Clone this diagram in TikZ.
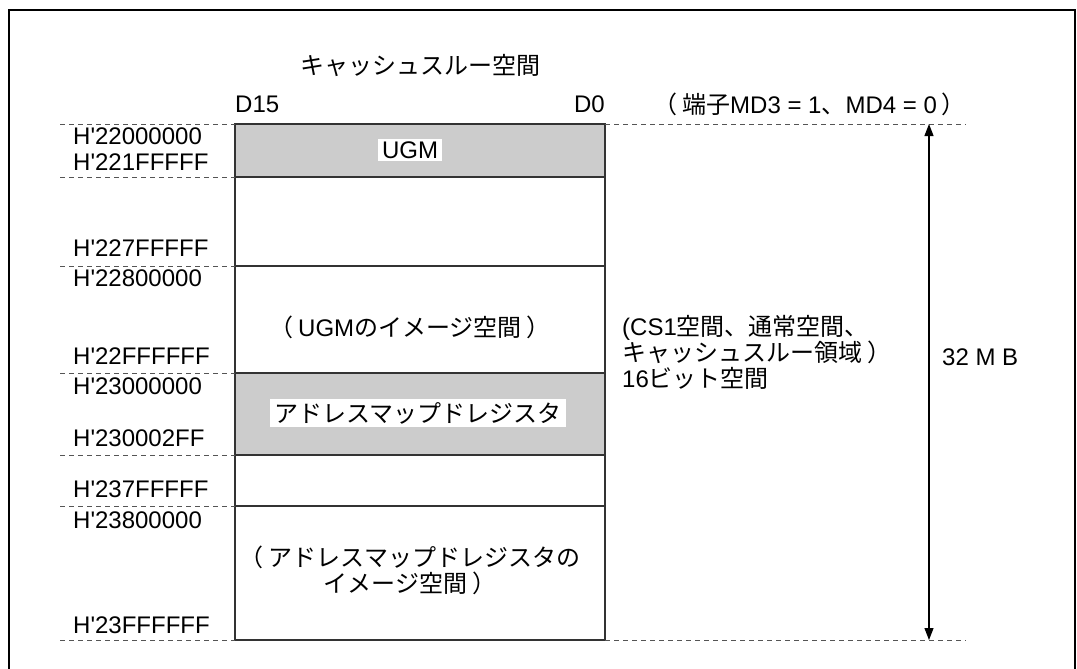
\documentclass[tikz,border=0pt]{standalone}
\usepackage{fontspec}
\setmainfont{Liberation Sans}
\newfontfamily\lat{Liberation Sans}
\newfontfamily\jp{Noto Sans CJK JP}
\usetikzlibrary{arrows.meta}
\definecolor{cellgray}{HTML}{CCCCCC}
\definecolor{dashgray}{HTML}{555555}
\newcommand\lp{{\jp （}\hspace{5pt}}
\newcommand\rp{\hspace{5pt}{\jp ）}}
\begin{document}
\begin{tikzpicture}[x=1pt,y=-1pt,
  txt/.style={font=\lat\fontsize{24}{26}\selectfont, inner sep=0pt},
  addr/.style={txt, anchor=west},
  lbl/.style={txt, fill=white, inner xsep=4pt, inner ysep=3pt},
  guide/.style={dashgray, line width=1pt, dash pattern=on 5pt off 4pt},
  cell/.style={draw=black!80, line width=1.3pt},
  frame/.style={draw=black, line width=2pt},
  dim/.style={black, line width=1.2pt, {Triangle[length=12pt,width=9pt]}-{Triangle[length=12pt,width=9pt]}}]
\useasboundingbox (0,0) rectangle (1077,669);
\draw[frame] (9,720) -- (9,10) -- (1075,10) -- (1075,720);

% row lines
\coordinate (L0) at (235,124); \coordinate (R0) at (605,124);
\coordinate (L1) at (235,177); \coordinate (R1) at (605,177);
\coordinate (L2) at (235,266); \coordinate (R2) at (605,266);
\coordinate (L3) at (235,373); \coordinate (R3) at (605,373);
\coordinate (L4) at (235,455); \coordinate (R4) at (605,455);
\coordinate (L5) at (235,506); \coordinate (R5) at (605,506);
\coordinate (L6) at (235,640); \coordinate (R6) at (605,640);

% gray cells
\fill[cellgray] (L0) rectangle (R1);
\fill[cellgray] (L3) rectangle (R4);
% box
\draw[cell] (L0) rectangle (R6);
\foreach \i in {1,...,5} {\draw[cell] (L\i) -- (R\i);}

% left guides
\foreach \i/\y in {0/124,1/177,2/266,3/373,4/455,5/506,6/640} {
  \coordinate (G\i) at (60,\y);
  \draw[guide] (G\i) -- (L\i);
}
% right guides
\coordinate (T0) at (966,124);
\coordinate (T6) at (966,640);
\draw[guide] (R0) -- (T0);
\draw[guide] (R6) -- (T6);

% dimension arrow
\coordinate (at) at (929,124);
\coordinate (ab) at (929,640);
\draw[dim] (at) -- (ab);
\node[txt, anchor=west] (mb) at (942,357) {32 M B};

% headers
\node[txt] (title) at (420,66) {\jp キャッシュスルー空間};
\node[txt, anchor=west] (d15) at (235,104) {D15};
\node[txt, anchor=east] (d0) at (605,104) {D0};
\node[txt, anchor=west] (cond) at (653,104) {\lp{\jp 端子}MD3 = 1{\jp 、}MD4 = 0\rp};

% addresses
\node[addr] (a1) at (73,136) {H'22000000};
\node[addr] (a2) at (73,162) {H'221FFFFF};
\node[addr] (a3) at (73,248) {H'227FFFFF};
\node[addr] (a4) at (73,278) {H'22800000};
\node[addr] (a5) at (73,356) {H'22FFFFFF};
\node[addr] (a6) at (73,386) {H'23000000};
\node[addr] (a7) at (73,438) {H'230002FF};
\node[addr] (a8) at (73,489) {H'237FFFFF};
\node[addr] (a9) at (73,520) {H'23800000};
\node[addr] (a10) at (73,625) {H'23FFFFFF};

% cell labels
\node[lbl] (ugm) at (410,150) {UGM};
\node[txt] (ugmimg) at (410,327) {\lp UGM{\jp のイメージ空間}\rp};
\node[lbl] (amr) at (418,413) {\jp アドレスマップドレジスタ};
\node[txt, align=center] (amrimg) at (410,570) {\lp{\jp アドレスマップドレジスタの}\\{\jp イメージ空間}\rp};

% right description
\node[txt, anchor=west, align=left] (desc) at (622,352) {(CS1{\jp 空間、通常空間、}\\{\jp キャッシュスルー領域}\rp\\16{\jp ビット空間}};
\end{tikzpicture}
\end{document}
